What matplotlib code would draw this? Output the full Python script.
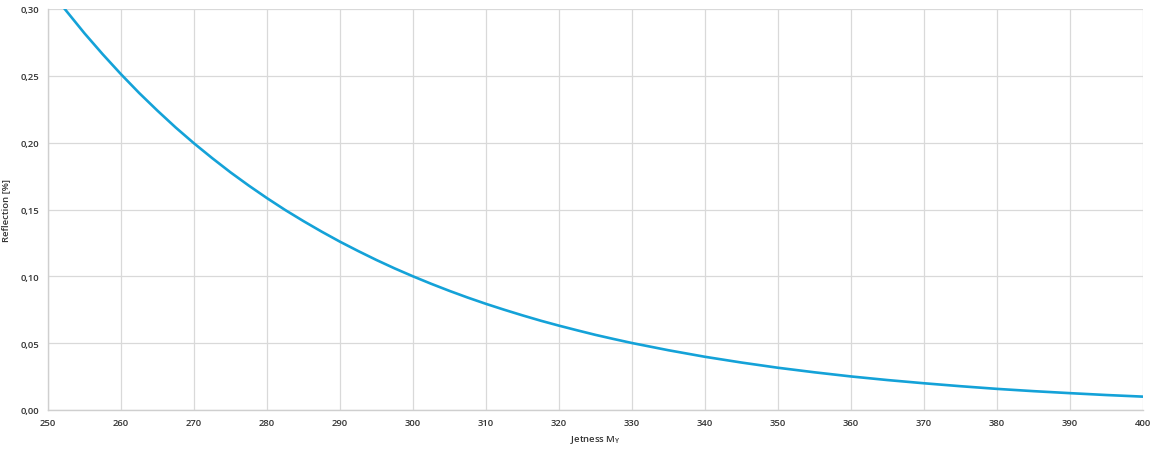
import matplotlib
matplotlib.use("Agg")
import matplotlib.pyplot as plt
from matplotlib.ticker import FuncFormatter

jetness = [252, 255, 257.5, 260, 262.5, 265, 267.5, 270, 272.5, 275, 277.5, 280, 282.5, 285,
           287.5, 290, 292.5, 295, 297.5, 300, 302.5, 305, 307.5, 310, 312.5, 315, 317.5, 320,
           322.5, 325, 327.5, 330, 335, 340, 345, 350, 355, 360, 365, 370, 375, 380, 385, 390,
           395, 400]
reflection = [0.3020, 0.2818, 0.2661, 0.2512, 0.2371, 0.2239, 0.2113, 0.1995, 0.1884, 0.1778,
              0.1679, 0.1585, 0.1496, 0.1413, 0.1334, 0.1259, 0.1189, 0.1122, 0.1059, 0.1000,
              0.0944, 0.0891, 0.0841, 0.0794, 0.0750, 0.0708, 0.0668, 0.0631, 0.0596, 0.0562,
              0.0531, 0.0501, 0.0447, 0.0398, 0.0355, 0.0316, 0.0282, 0.0251, 0.0224, 0.0200,
              0.0178, 0.0158, 0.0141, 0.0126, 0.0112, 0.0100]
x_ticks = list(range(250, 401, 10))
y_ticks = [0.0, 0.05, 0.10, 0.15, 0.20, 0.25, 0.30]

plt.rcParams['font.family'] = ['Open Sans', 'DejaVu Sans']

fig = plt.figure(figsize=(11.6, 4.52), dpi=100)
ax = fig.add_axes([48/1160, 41/452, (1143-48)/1160, (411-10)/452])

ax.plot(jetness, reflection, color='#14a2d8', lw=1.9, solid_joinstyle='round', zorder=3)

ax.set_xlim(250, 400)
ax.set_ylim(0, 0.30)
ax.set_xticks(x_ticks)
ax.set_yticks(y_ticks)
ax.yaxis.set_major_formatter(FuncFormatter(lambda v, p: f"{v:.2f}".replace('.', ',')))
ax.grid(True, color='#d9d9d9', lw=0.9)
ax.set_axisbelow(True)
for s in ['top', 'right']:
    ax.spines[s].set_visible(False)
for s in ['left', 'bottom']:
    ax.spines[s].set_color('#cfcfcf')
    ax.spines[s].set_linewidth(1.0)
ax.tick_params(axis='both', length=0, labelsize=6.8, colors='#333333', pad=6)
for lab in ax.get_xticklabels() + ax.get_yticklabels():
    lab.set_fontweight('semibold')
ax.set_xlabel('Jetness M$_\\mathregular{Y}$', fontsize=6.8, color='#333333', labelpad=4,
              fontweight='semibold')
ax.set_ylabel('Reflection [%]', fontsize=6.8, color='#333333', labelpad=8,
              fontweight='semibold')

fig.savefig('out.png', dpi=100)
